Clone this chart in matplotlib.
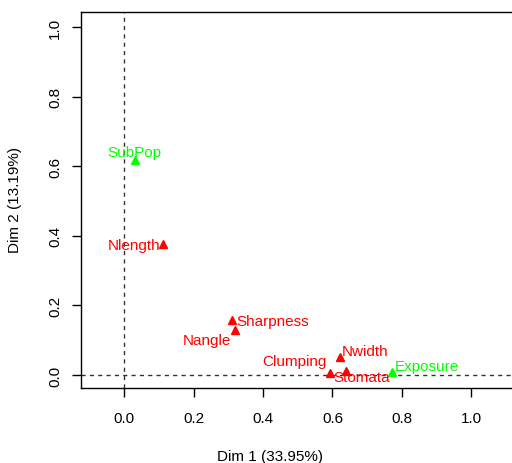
import matplotlib
matplotlib.use("Agg")
import matplotlib.pyplot as plt

plt.rcParams['font.family'] = ['Liberation Sans', 'DejaVu Sans']

# Data
variables = ["SubPop", "Nlength", "Sharpness", "Nangle", "Nwidth", "Clumping", "Stomata", "Exposure"]
dim1 = [0.032, 0.113, 0.311, 0.319, 0.622, 0.593, 0.639, 0.771]
dim2 = [0.618, 0.376, 0.158, 0.129, 0.052, 0.006, 0.012, 0.009]
colors = ["#00FF00", "red", "red", "red", "red", "red", "red", "#00FF00"]
xticks = [0.0, 0.2, 0.4, 0.6, 0.8, 1.0]
yticks = [0.0, 0.2, 0.4, 0.6, 0.8, 1.0]
xlabel = "Dim 1 (33.95%)"
ylabel = "Dim 2 (13.19%)"

# label placement (offset in points, horizontal alignment)
label_offsets = {
    "SubPop": ((-0.7, 5.8), "center"),
    "Nlength": ((-2.2, -0.7), "right"),
    "Sharpness": ((2.9, -0.7), "left"),
    "Nangle": ((-2.9, -7.2), "right"),
    "Nwidth": ((1.4, 4.3), "left"),
    "Clumping": ((-2.2, 8.6), "right"),
    "Stomata": ((-9.4, -4.3), "left"),
    "Exposure": ((2.2, 4.3), "left"),
}

fig = plt.figure(figsize=(5.12, 4.64), dpi=100)
ax = fig.add_axes([81/512, 75/464, 1 - 81/512, (389-13)/464])

ax.axvline(0, color="#333333", lw=1, linestyle=(0, (3, 3)), zorder=1)
ax.axhline(0, color="#333333", lw=1, linestyle=(0, (3, 3)), zorder=1)

for name, x, y, c in zip(variables, dim1, dim2, colors):
    ax.plot(x, y, marker="^", color=c, markersize=5.5, linestyle="none", zorder=3)
    off, ha = label_offsets[name]
    ax.annotate(name, (x, y), xytext=off, textcoords="offset points",
                ha=ha, va="center", color=c, fontsize=11, zorder=4)

ax.set_xlim(-0.124, 1.117)
ax.set_ylim(-0.037, 1.043)
ax.set_xticks(xticks)
ax.set_xticklabels([f"{t:.1f}" for t in xticks])
ax.set_yticks(yticks)
ax.set_yticklabels([f"{t:.1f}" for t in yticks], rotation=90, va="center")
ax.tick_params(axis="x", direction="out", length=6.5, width=1, labelsize=11, pad=10)
ax.tick_params(axis="y", direction="out", length=6.5, width=1, labelsize=11, pad=7)
ax.spines["right"].set_visible(False)
for s in ["left", "bottom", "top"]:
    ax.spines[s].set_linewidth(1)

fig.text(270/512, 1 - 457/464, xlabel, ha="center", va="center", fontsize=11)
fig.text(15/512, 1 - 200/464, ylabel, ha="center", va="center", fontsize=11, rotation=90)

fig.savefig("out.png", dpi=100)
